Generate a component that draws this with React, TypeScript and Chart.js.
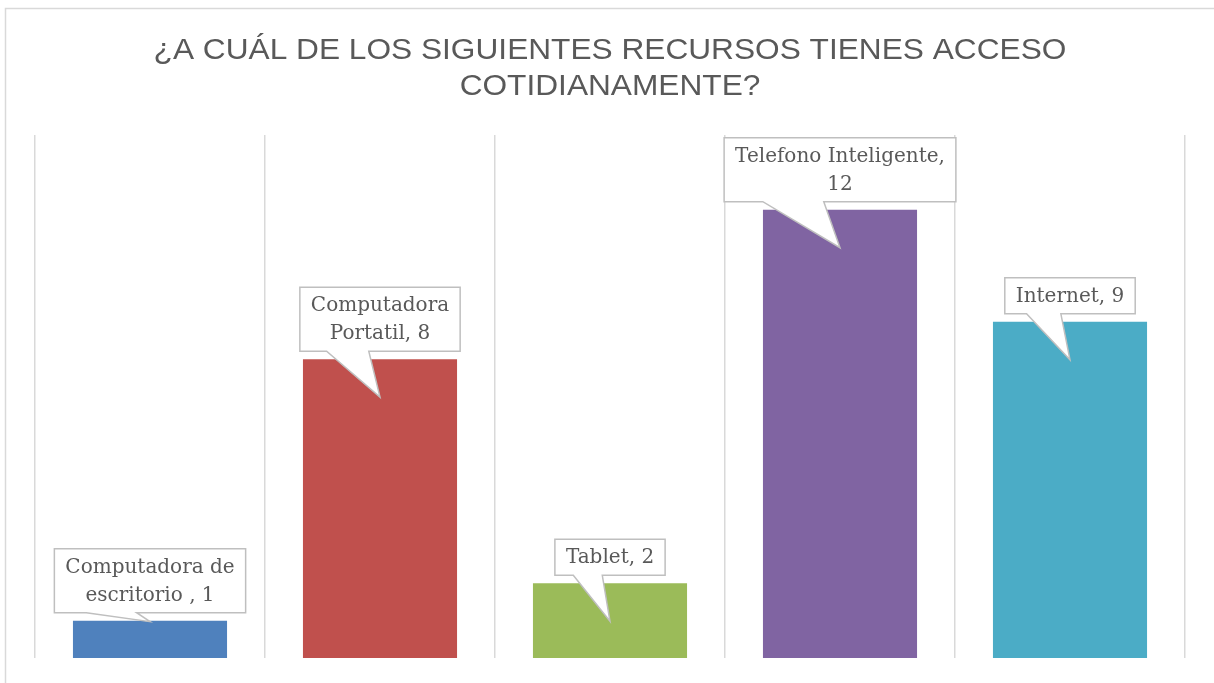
import React, { useEffect, useRef } from "react";
import { Chart, registerables } from "chart.js";

Chart.register(...registerables);

const titleLines = ["¿A CUÁL DE LOS SIGUIENTES RECURSOS TIENES ACCESO", "COTIDIANAMENTE?"];
const categories = ["Computadora de escritorio ", "Computadora Portatil", "Tablet", "Telefono Inteligente", "Internet"];
const values = [1, 8, 2, 12, 9];
const barColors = ["#4F81BD", "#C0504D", "#9BBB59", "#8064A2", "#4BACC6"];
const yMax = 14;

const TITLE_FONT = '30px "Liberation Sans", Arial, sans-serif';
const TITLE_STRETCH = 1.055;
const TITLE_BASELINES = [59, 95];
const TITLE_CX = 610;

const LABEL_FONT = '20px "DejaVu Serif"';
const LABEL_LINE_H = 28;
const LABEL_PAD_X = 11;
const LABEL_PAD_Y = 4;
const LABEL_WRAP = 222;

function wrapText(ctx: CanvasRenderingContext2D, text: string, maxW: number): string[] {
  const words = text.split(" ").filter((w) => w.length > 0);
  const lines: string[] = [];
  let cur = "";
  for (const w of words) {
    const test = cur ? cur + " " + w : w;
    if (cur && ctx.measureText(test).width > maxW) {
      lines.push(cur);
      cur = w;
    } else {
      cur = test;
    }
  }
  if (cur) lines.push(cur);
  return lines;
}

const borderPlugin = {
  id: "outerBorder",
  beforeDraw(chart: any) {
    const ctx = chart.ctx;
    ctx.save();
    ctx.fillStyle = "#ffffff";
    ctx.fillRect(0, 0, chart.width, chart.height);
    ctx.strokeStyle = "#d9d9d9";
    ctx.lineWidth = 1.5;
    ctx.strokeRect(5.5, 8.5, chart.width + 20, chart.height + 20);
    ctx.restore();
  },
};

const titlePlugin = {
  id: "stretchedTitle",
  afterDraw(chart: any) {
    const ctx: CanvasRenderingContext2D = chart.ctx;
    ctx.save();
    ctx.font = TITLE_FONT;
    ctx.fillStyle = "#595959";
    ctx.textAlign = "center";
    ctx.textBaseline = "alphabetic";
    titleLines.forEach((l, k) => {
      ctx.save();
      ctx.translate(TITLE_CX, TITLE_BASELINES[k]);
      ctx.scale(TITLE_STRETCH, 1);
      ctx.fillText(l, 0, 0);
      ctx.restore();
    });
    ctx.restore();
  },
};

const calloutPlugin = {
  id: "callouts",
  afterDatasetsDraw(chart: any) {
    const ctx: CanvasRenderingContext2D = chart.ctx;
    const meta = chart.getDatasetMeta(0);
    ctx.save();
    ctx.font = LABEL_FONT;
    meta.data.forEach((bar: any, i: number) => {
      const text = `${categories[i]}, ${values[i]}`;
      const lines = wrapText(ctx, text, LABEL_WRAP);
      const tw = Math.max(...lines.map((l) => ctx.measureText(l).width));
      const w = tw + 2 * LABEL_PAD_X;
      const h = lines.length * LABEL_LINE_H + 2 * LABEL_PAD_Y;
      const cx = bar.x;
      const barTop = bar.y;
      const barH = bar.base - bar.y;
      const bottom = barTop - 8;
      const top = bottom - h;
      const left = cx - w / 2;
      const right = cx + w / 2;
      const tipX = cx;
      const tipY = barH > 60 ? barTop + 38 : barTop + 1;
      const p1 = left + w * 0.167;
      const p2 = left + w * 0.43;
      ctx.beginPath();
      ctx.moveTo(left, top);
      ctx.lineTo(right, top);
      ctx.lineTo(right, bottom);
      ctx.lineTo(p2, bottom);
      ctx.lineTo(tipX, tipY);
      ctx.lineTo(p1, bottom);
      ctx.lineTo(left, bottom);
      ctx.closePath();
      ctx.fillStyle = "#ffffff";
      ctx.fill();
      ctx.strokeStyle = "#bfbfbf";
      ctx.lineWidth = 1.5;
      ctx.lineJoin = "miter";
      ctx.stroke();
      ctx.fillStyle = "#595959";
      ctx.textAlign = "center";
      ctx.textBaseline = "middle";
      lines.forEach((l, k) => {
        ctx.fillText(l, cx, top + LABEL_PAD_Y + LABEL_LINE_H * (k + 0.5) + 1);
      });
    });
    ctx.restore();
  },
};

export default function App() {
  const ref = useRef<HTMLCanvasElement | null>(null);
  useEffect(() => {
    if (!ref.current) return;
    const chart = new Chart(ref.current, {
      type: "bar",
      data: {
        labels: categories,
        datasets: [
          {
            data: values,
            backgroundColor: barColors,
            borderWidth: 0,
            categoryPercentage: 1,
            barPercentage: 0.67,
          },
        ],
      },
      options: {
        responsive: true,
        maintainAspectRatio: false,
        animation: false,
        layout: { padding: { left: 35, right: 29, top: 135, bottom: 25 } },
        plugins: {
          legend: { display: false },
          tooltip: { enabled: false },
          title: { display: false },
        },
        scales: {
          x: {
            grid: { display: true, color: "#d9d9d9", lineWidth: 1.5, drawTicks: false, offset: true },
            ticks: { display: false },
            border: { display: false },
          },
          y: {
            display: false,
            min: 0,
            max: yMax,
          },
        },
      },
      plugins: [borderPlugin, calloutPlugin, titlePlugin],
    } as any);
    return () => chart.destroy();
  }, []);
  return (
    <div style={{ position: "fixed", left: 0, top: 0, width: 1214, height: 683, background: "#fff" }}>
      <canvas ref={ref} />
    </div>
  );
}
